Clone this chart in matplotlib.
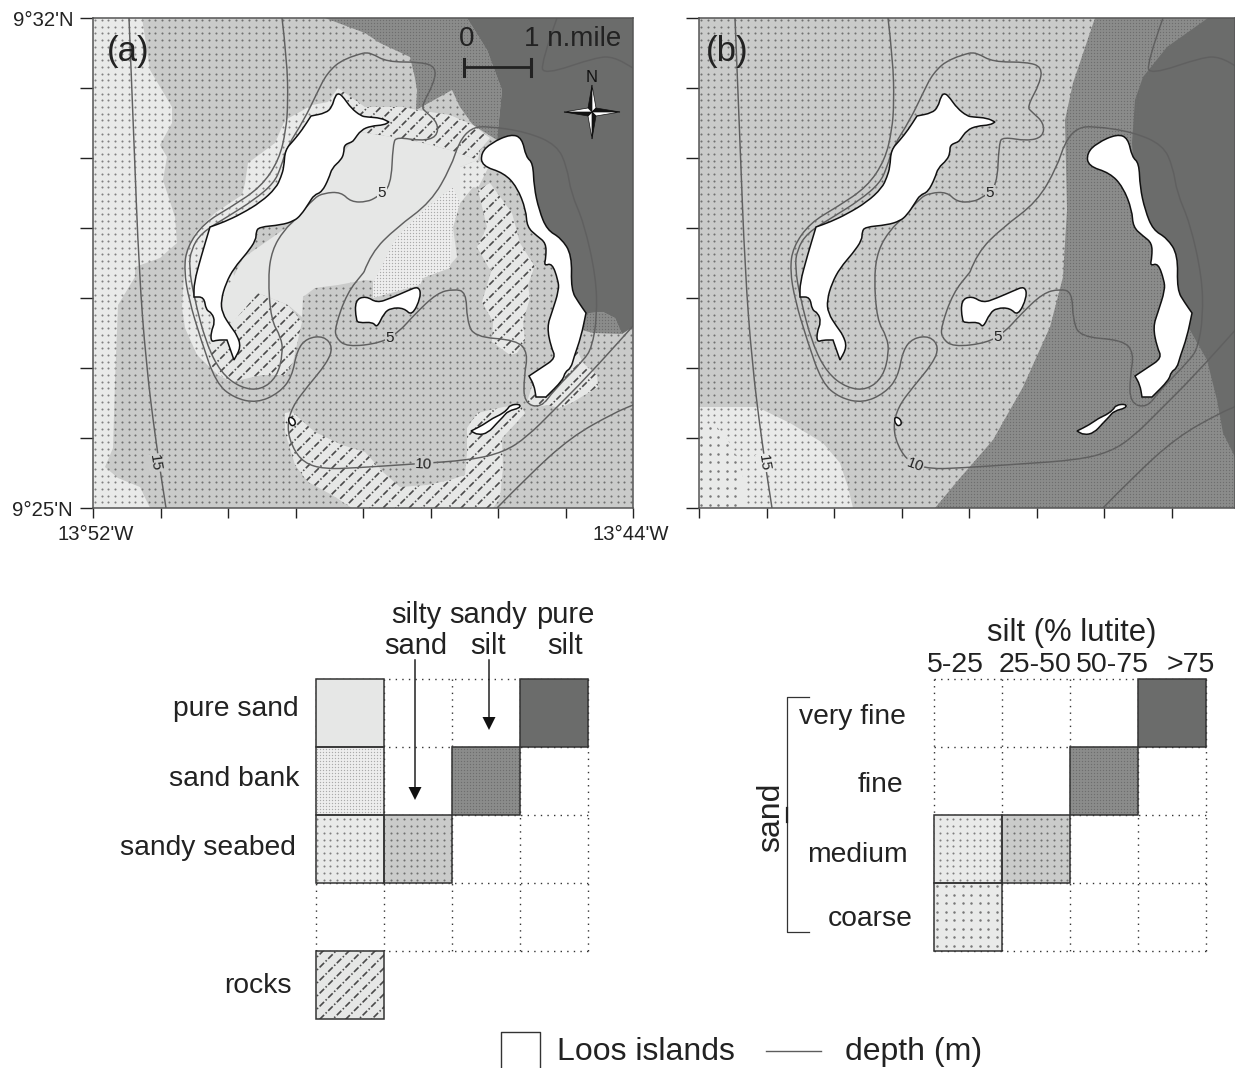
import numpy as np
import matplotlib
matplotlib.use('Agg')
import matplotlib.pyplot as plt
from matplotlib.patches import Polygon, PathPatch, Rectangle
from matplotlib.path import Path
from matplotlib.transforms import ScaledTranslation

plt.rcParams['font.family'] = ['Liberation Sans', 'DejaVu Sans']

# map coordinates: pixels from the top left corner of each panel
main_island = [(117,209),(117,209),(131,204),(148,196),(168,184),(183,170),(188,159),(191,149),(192,132),(201,122),(209,112),
    (218,98),(218,98),(233,95),(239,89),(242,78),(246,75),(251,80),(258,90),(268,98),(274,99),(288,100),(296,104),(296,104),(291,107),
    (278,108),(268,112),(261,122),(259,124),(251,127),(251,135),(248,142),(239,150),(236,160),(229,174),(221,177),
    (216,185),(208,197),(201,203),(188,207),(166,209),(163,214),(163,222),(154,235),(141,250),(133,265),(128,282),
    (129,295),(138,309),(144,317),(148,329),(141,342),(141,342),(134,322),(134,322),(124,322),(118,324),(118,314),(122,304),(119,295),
    (113,292),(111,279),(101,279),(101,279),(101,265),(108,239)]
east_island = [(388,135),(398,125),(418,116),(429,120),(433,139),(440,145),(441,169),(446,192),(454,212),(468,220),
    (479,237),(478,272),(486,285),(493,295),(493,295),(488,319),(481,339),(478,350),(472,354),(470,362),(453,379),(453,379),(443,379),(443,379),
    (441,367),(436,358),(436,358),(448,350),(463,340),(458,329),(454,309),(459,294),(466,272),(465,262),(459,245),(451,248),
    (453,239),(453,225),(444,218),(434,209),(433,192),(424,169),(411,155),(389,148)]
middle_island = [(262,282),(273,278),(284,285),(298,280),(314,273),(326,268),(328,279),(319,298),(311,290),(298,290),
    (291,295),(284,310),(280,304),(266,305),(263,302)]
south_islet = [(378,413),(378,413),(390,407),(400,400),(407,397),(414,392),(417,387),(427,386),(427,390),(415,393),(410,399),
    (404,405),(395,415),(385,417)]
small_islet = [(195,400),(199,399),(203,404),(201,408),(197,407)]
islands = [main_island, east_island, middle_island, south_islet, small_islet]

depth_15 = [(36,0),(41,125),(46,252),(53,345),(63,425),(73,490)]
depth_10 = [(189,0),(194,42),(195,85),(193,112),(186,142),(168,169),(138,189),(111,205),(94,229),(91,252),(96,282),
    (108,322),(123,365),(141,380),(164,385),(186,375),(199,359),(204,332),(214,320),(231,318),(240,329),(234,345),
    (214,369),(199,389),(194,409),(199,429),(211,445),(231,451),(261,450),(321,446),(378,442),(411,434),(434,419),
    (461,392),(494,359),(540,308)]
depth_5_west = [(271,35),(251,40),(234,55),(224,75),(211,102),(194,129),(188,149),(181,165),(161,182),(134,199),
    (108,215),(98,232),(96,249),(101,279),(113,325),(128,355),(148,370),(168,372),(184,359),(190,335),(188,319),
    (178,302),(175,259),(179,232),(191,212),(204,200),(221,180),(231,175),(248,174),(258,184),(274,184),(284,179),
    (298,169),(300,125),(304,119),(328,123),(344,119),(345,105),(333,94),(328,89),(341,65),(343,49),(328,44),
    (294,44),(278,35),(271,35)]
depth_5_east = [(271,254),(278,235),(303,210),(338,184),(358,149),(366,124),(378,110),(394,108),(434,114),(464,127),
    (474,149),(478,175),(491,205),(503,259),(504,299),(499,329),(491,342),(461,372),(448,390),(431,385),(431,359),
    (435,335),(424,322),(381,319),(374,302),(373,274),(361,271),(344,275),(321,297),(306,314),(288,325),(254,329),
    (243,320),(242,309),(254,275),(271,254)]
depth_ne = [(464,0),(448,45),(451,57),(504,39),(521,39),(540,50)]
depth_se = [(404,490),(434,459),(478,419),(521,395),(540,387)]
contours = [depth_15, depth_10, depth_5_west, depth_5_east, depth_ne, depth_se]

# panel (a) sediment
a_west_seabed = [(49,0),(57,52),(79,89),(79,105),(67,127),(74,139),(70,162),(82,199),(84,225),(67,240),(42,249),
    (42,259),(25,287),(22,364),(20,430),(12,449),(25,460),(47,469),(57,490),(0,490),(0,0)]
a_sandy_silt = [(232,0),(272,15),(287,25),(317,39),(322,60),(324,72),(323,92),(359,72),(367,89),(380,107),(404,122),
    (409,72),(394,32),(374,0)]
a_silt_bump = [(490,298),(497,295),(510,294),(522,300),(529,316),(500,315),(489,312)]
a_pure_silt = [(374,0),(540,0),(540,309),(529,316),(522,300),(510,294),(497,295),(490,298),(470,280),(468,235),(445,205),
    (437,170),(425,130),(404,122),(409,72),(394,32)]
a_coast_seabed = [(245,70),(235,84),(219,87),(205,95),(192,102),(182,125),(155,145),(152,165),(149,177),(122,195),
    (102,215),(92,242),(89,290),(92,310),(104,337),(125,357),(139,364),(150,340),(140,250),(200,150),(250,100)]
a_pure_sand = [(125,290),(140,305),(145,302),(165,275),(195,287),(209,299),(210,279),(222,270),(245,267),(272,262),
    (300,265),(330,260),(357,247),(364,239),(360,209),(367,185),(380,169),(367,149),(385,142),(357,132),(330,125),
    (299,119),(267,114),(250,135),(200,205),(150,240)]
a_sand_bank = [(360,169),(334,189),(310,212),(300,225),(287,252),(280,264),(280,280),(327,267),(330,260),(357,250),
    (360,209),(367,185)]
a_lagoon_seabed = [(367,149),(385,142),(395,150),(385,170),(380,169),(367,185)]
a_rocks_north = [(245,70),(262,82),(272,89),(310,89),(324,92),(357,97),(380,107),(397,120),(387,132),(385,142),
    (357,132),(330,125),(299,119),(267,114),(250,100)]
a_rocks_sw = [(165,275),(195,287),(209,304),(200,344),(192,357),(169,357),(139,364),(125,355),(115,344),(117,325),(142,302)]
a_rocks_east = [(385,172),(394,209),(384,229),(397,252),(400,247),(389,284),(400,304),(399,324),(417,337),(424,335),
    (432,322),(430,304),(437,280),(435,267),(442,247),(444,252),(427,225),(419,195),(397,165)]
a_rocks_south = [(192,395),(199,394),(222,414),(249,427),(272,434),(290,454),(307,469),(334,467),(357,462),(372,457),
    (374,434),(374,410),(384,395),(410,389),(427,387),(432,395),(424,404),(409,420),(410,450),(407,480),(400,490),
    (259,490),(239,477),(215,464),(202,447),(192,414)]
a_rocks_se = [(434,384),(440,365),(450,375),(470,355),(480,340),(484,332),(490,345),(504,357),(505,369),(480,384),
    (467,390),(454,387),(444,389)]

# panel (b) sediment
b_seabed = [(0,389),(58,389),(91,405),(124,425),(141,445),(149,469),(154,490),(0,490)]
b_coarse = [(0,405),(18,409),(34,429),(44,459),(44,490),(0,490)]
b_sandy_silt = [(396,0),(374,65),(366,102),(368,192),(364,259),(351,309),(324,369),(294,422),(261,460),(236,490),
    (536,490),(536,0)]
b_pure_silt = [(509,0),(468,29),(444,59),(436,82),(433,125),(436,170),(445,205),(468,235),(472,285),(491,312),(508,342),
    (518,382),(524,415),(536,439),(536,0)]

regions_a = [('seabed', a_west_seabed), ('silt_sandy', a_sandy_silt), ('silt_sandy', a_silt_bump), ('silt_pure', a_pure_silt),
    ('seabed', a_coast_seabed), ('pure_sand', a_pure_sand), ('bank', a_sand_bank), ('seabed', a_lagoon_seabed),
    ('rocks', a_rocks_north), ('rocks', a_rocks_sw), ('rocks', a_rocks_east), ('rocks', a_rocks_south), ('rocks', a_rocks_se)]
regions_b = [('seabed', b_seabed), ('coarse', b_coarse), ('silt_sandy', b_sandy_silt), ('silt_pure', b_pure_silt)]

labels_a = [('15', 62, 445, -82, '#cacbca'), ('10', 331, 446, -3, '#cacbca'), ('5', 289, 175, 0, '#e6e7e6'), ('5', 297, 320, 0, '#cacbca')]
labels_b = [('15', 65, 445, -82, '#e9eae9'), ('10', 216, 447, -20, '#cacbca'), ('5', 291, 175, 0, '#cacbca'), ('5', 299, 319, 0, '#cacbca')]

lon_ticks = ["13°52'W", '', '', '', '', '', '', '', "13°44'W"]
lat_ticks = ["9°32'N", '', '', '', '', '', '', "9°25'N"]

# legend tables: col, row, style
left_cells = [(0,0,'pure_sand'), (3,0,'silt_pure'), (0,1,'bank'), (2,1,'silt_sandy'), (0,2,'seabed'), (1,2,'silty'), (0,4,'rocks')]
right_cells = [(3,0,'silt_pure'), (2,1,'silt_sandy'), (0,2,'seabed'), (1,2,'silty'), (0,3,'coarse')]
left_rows = [('pure sand', 299, 709), ('sand bank', 299, 779), ('sandy seabed', 296, 848), ('rocks', 292, 986)]
right_rows = [('very fine', 906, 717), ('fine', 903, 785), ('medium', 908, 855), ('coarse', 913, 919)]
left_cols = [('silty\nsand', 416), ('sandy\nsilt', 488), ('pure\nsilt', 565)]
right_cols = [('5-25', 955), ('25-50', 1035), ('50-75', 1112), ('>75', 1191)]

# face, dot spacing, dot size, dot colour
styles = {
    'pure_sand': ('#e6e7e6', 0, 0, None),
    'bank': ('#eeeeee', 3.0, 0.9, '#ababab'),
    'seabed': ('#e9eae9', 6.7, 2.2, '#7f7f7f'),
    'coarse': ('#e9eae9', 8.5, 3.2, '#777777'),
    'silty': ('#cacbca', 6.7, 2.2, '#707070'),
    'silt_sandy': ('#8b8c8b', 3.0, 0.9, '#6e6e6e'),
    'silt_pure': ('#6b6c6b', 0, 0, None),
    'rocks': ('#e6e7e6', 0, 0, None),
}


def smooth(points, closed=False):
    # quadratic curve through the midpoints, open lines keep their end points
    pts = np.array(points, dtype=float)
    if closed:
        start = (pts[-1] + pts[0]) / 2
        verts = [start]
        codes = [Path.MOVETO]
        for i in range(len(pts)):
            verts += [pts[i], (pts[i] + pts[(i + 1) % len(pts)]) / 2]
            codes += [Path.CURVE3, Path.CURVE3]
        verts.append(start)
        codes.append(Path.CLOSEPOLY)
        return Path(verts, codes)
    verts = [pts[0]]
    codes = [Path.MOVETO]
    for i in range(1, len(pts) - 1):
        verts += [pts[i], (pts[i] + pts[i + 1]) / 2]
        codes += [Path.CURVE3, Path.CURVE3]
    verts.append(pts[-1])
    codes.append(Path.LINETO)
    return Path(verts, codes)


def fill_region(ax, poly, style, z=1):
    face, step, size, dot = styles[style]
    patch = Polygon(poly, closed=True, facecolor=face, edgecolor='none', zorder=z)
    ax.add_patch(patch)
    pts = np.array(poly)
    x0, y0 = pts.min(axis=0)
    x1, y1 = pts.max(axis=0)
    if step > 0:
        gx = np.arange(np.floor(x0 / step) * step + 2, x1 + step, step)
        gy = np.arange(np.floor(y0 / step) * step + 2, y1 + step, step)
        xx, yy = np.meshgrid(gx, gy)
        sc = ax.scatter(xx.ravel(), yy.ravel(), s=size, c=dot, linewidths=0, zorder=z)
        sc.set_clip_path(patch)
    if style == 'rocks':
        gap = 13
        for c in np.arange(np.floor((x0 + y0) / gap) * gap, x1 + y1 + gap, gap):
            line, = ax.plot([x0 - 5, x1 + 5], [c - x0 + 5, c - x1 - 5], color='#4a4a4a', lw=1.2,
                            ls=(0, (3.8, 1.3, 0.9, 1.3)), zorder=z, scalex=False, scaley=False)
            line.set_clip_path(patch)


def draw_map(ax, regions, labels, width, n_xticks):
    ax.set_xlim(0, width)
    ax.set_ylim(490, 0)
    fill_region(ax, [(0,0),(width,0),(width,490),(0,490)], 'silty', z=0.5)
    for i, (style, poly) in enumerate(regions):
        fill_region(ax, poly, style, z=1 + i * 0.01)
    for c in contours:
        ax.add_patch(PathPatch(smooth(c), facecolor='none', edgecolor='#606060', lw=1.05, zorder=3))
    for poly in islands:
        ax.add_patch(PathPatch(smooth(poly, closed=True), facecolor='white', edgecolor='#111111', lw=1.1, zorder=4))
    for txt, x, y, rot, bg in labels:
        ax.text(x, y, txt, fontsize=11, color='#222222', rotation=rot, ha='center', va='center', zorder=5,
                bbox=dict(facecolor=bg, edgecolor='none', pad=0.5))
    ax.set_xticks(np.arange(n_xticks) * 67.5)
    ax.set_yticks(np.arange(8) * 70)
    ax.tick_params(axis='x', length=7.5, width=1, color='#222222', labelsize=14.6, labelcolor='#222222', pad=5)
    ax.tick_params(axis='y', length=9.4, width=1, color='#222222', labelsize=14.6, labelcolor='#222222', pad=5)
    for s in ax.spines.values():
        s.set_color('#555555')
        s.set_linewidth(1.1)
        s.set_zorder(6)


def cell_grid(ax, x0, y0, rows, cells):
    size = 68
    dotted = dict(color='#333333', lw=1, ls=(0, (1, 3.75)), zorder=1)
    for i in range(5):
        ax.plot([x0 + i * size] * 2, [y0, y0 + rows * size], **dotted)
    for j in range(rows + 1):
        ax.plot([x0, x0 + 4 * size], [y0 + j * size] * 2, **dotted)
    for col, row, style in cells:
        x = x0 + col * size
        y = y0 + row * size
        fill_region(ax, [(x, y), (x + size, y), (x + size, y + size), (x, y + size)], style, z=2)
        ax.add_patch(Rectangle((x, y), size, size, facecolor='none', edgecolor='#333333', lw=1.1, zorder=3))


fig = plt.figure(figsize=(12.35, 10.68), dpi=100)
W, H = 1235, 1068
ax_a = fig.add_axes([93 / W, 1 - 508 / H, 540 / W, 490 / H])
ax_b = fig.add_axes([699 / W, 1 - 508 / H, 536 / W, 490 / H])
draw_map(ax_a, regions_a, labels_a, 540, 9)
draw_map(ax_b, regions_b, labels_b, 536, 8)

ax_a.set_xticklabels(lon_ticks)
ax_a.set_yticklabels(lat_ticks)
ax_b.set_xticklabels([])
ax_b.set_yticklabels([])

# the two longitude labels sit a little inside their ticks
xlabels = ax_a.get_xticklabels()
xlabels[0].set_transform(xlabels[0].get_transform() + ScaledTranslation(3 / 100, 0, fig.dpi_scale_trans))
xlabels[-1].set_transform(xlabels[-1].get_transform() + ScaledTranslation(-2.5 / 100, 0, fig.dpi_scale_trans))

ax_a.text(35, 34, '(a)', fontsize=25, color='#222222', ha='center', va='center', zorder=7)
ax_b.text(28, 34, '(b)', fontsize=25, color='#222222', ha='center', va='center', zorder=7)

# scale bar
ax_a.plot([371, 438], [49, 49], color='#222222', lw=2, zorder=7)
ax_a.plot([371, 371], [41, 58], color='#222222', lw=2.2, zorder=7)
ax_a.plot([438, 438], [41, 58], color='#222222', lw=2.2, zorder=7)
ax_a.text(374, 21.5, '0', fontsize=20, color='#222222', ha='center', va='center', zorder=7)
ax_a.text(431, 21.5, '1 n.mile', fontsize=20, color='#222222', ha='left', va='center', zorder=7)

# north arrow
cx, cy = 499, 94
arm_v, arm_h, inner = 27, 28, 4
ax_a.text(cx, cy - 34, 'N', fontsize=12, color='#111111', ha='center', va='center', zorder=7)
arms = [((0, -arm_v), (-inner, -inner), (inner, -inner)), ((arm_h, 0), (inner, -inner), (inner, inner)),
        ((0, arm_v), (inner, inner), (-inner, inner)), ((-arm_h, 0), (-inner, inner), (-inner, -inner))]
for tip, p1, p2 in arms:
    ax_a.add_patch(Polygon([(cx + tip[0], cy + tip[1]), (cx + p1[0], cy + p1[1]), (cx, cy)], facecolor='#111111', edgecolor='#111111', lw=0.5, zorder=7))
    ax_a.add_patch(Polygon([(cx + tip[0], cy + tip[1]), (cx + p2[0], cy + p2[1]), (cx, cy)], facecolor='white', edgecolor='#111111', lw=0.5, zorder=7))

# everything below the maps, drawn in figure pixels
ax = fig.add_axes([0, 0, 1, 1], facecolor='none')
ax.set_xlim(0, W)
ax.set_ylim(H, 0)
ax.axis('off')

cell_grid(ax, 316, 679, 4, left_cells)
cell_grid(ax, 934, 679, 4, right_cells)

for txt, x, y in left_rows + right_rows:
    ax.text(x, y, txt, fontsize=20.3, color='#222222', ha='right', va='center')
for txt, x in left_cols:
    ax.text(x, 630.5, txt, fontsize=21, color='#222222', ha='center', va='center', linespacing=1.15)
for txt, x in right_cols:
    ax.text(x, 665, txt, fontsize=20.5, color='#222222', ha='center', va='center')
ax.text(1072, 633, 'silt (% lutite)', fontsize=22.3, color='#222222', ha='center', va='center')
ax.text(771, 817, 'sand', fontsize=23, color='#222222', rotation=90, ha='center', va='center')

for x, tip in [(415, 800), (489, 730)]:
    ax.plot([x, x], [660, tip - 12], color='#222222', lw=1.1, zorder=4)
    ax.add_patch(Polygon([(x - 6.5, tip - 13), (x + 6.5, tip - 13), (x, tip)], facecolor='#111111', edgecolor='none', zorder=4))

ax.plot([809, 787, 787, 809], [697, 697, 932, 932], color='#333333', lw=0.9)
ax.plot([787, 787], [808, 822], color='#222222', lw=1.6)

ax.plot([501, 501, 540, 540], [1069, 1032, 1032, 1069], color='#333333', lw=1)
ax.text(557, 1052, 'Loos islands', fontsize=23, color='#222222', ha='left', va='center')
ax.plot([766, 821], [1051, 1051], color='#5c5c5c', lw=1)
ax.text(845, 1052, 'depth (m)', fontsize=23, color='#222222', ha='left', va='center')

fig.savefig('out.png', dpi=100)
